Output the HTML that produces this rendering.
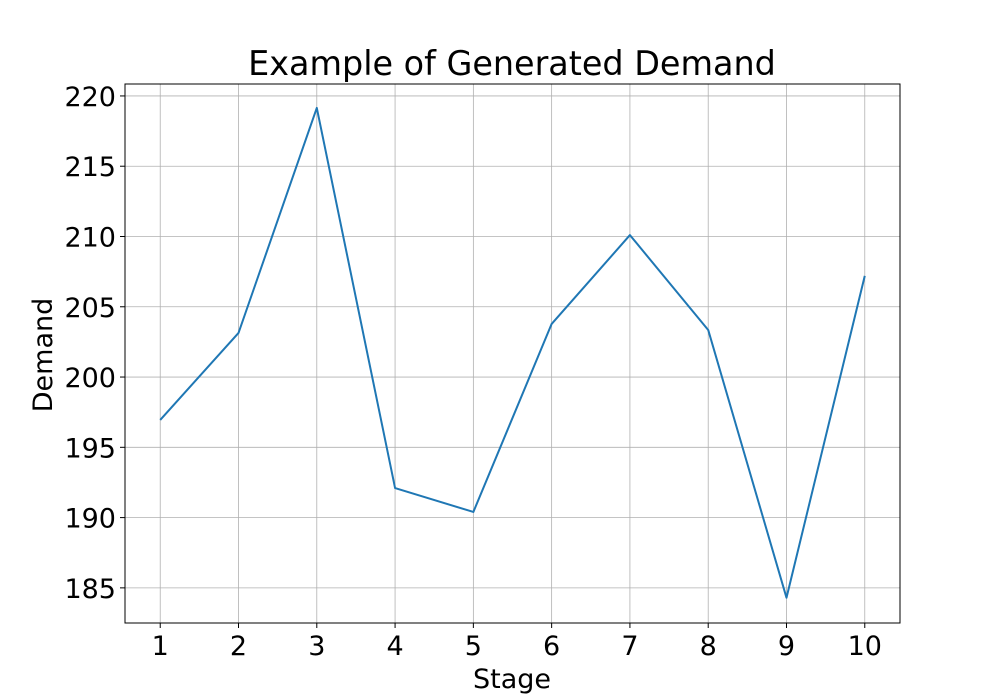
<!DOCTYPE html>
<html><head><meta charset="utf-8"><style>
html,body{margin:0;padding:0;background:#fff;}
svg{display:block;font-family:"DejaVu Sans","Liberation Sans",sans-serif;}
</style></head><body>
<svg id="chart" width="1000" height="700">
<rect x="0" y="0" width="1000" height="700" fill="#fff"/>
<g id="grid"></g>
<g id="xticks"></g>
<g id="yticks"></g>
<path id="line" fill="none" stroke="#1f77b4" stroke-width="2" stroke-linejoin="round"/>
<rect x="125" y="84" width="775" height="539" fill="none" stroke="#000" stroke-width="1"/>
<text x="512" y="75" text-anchor="middle" font-size="33.4">Example of Generated Demand</text>
<text x="512" y="688" text-anchor="middle" font-size="27">Stage</text>
<text transform="translate(52,355) rotate(-90)" text-anchor="middle" font-size="27">Demand</text>
</svg>
<script>
const stages=[1,2,3,4,5,6,7,8,9,10];
const demand=[196.95,203.14,219.15,192.1,190.4,203.78,210.1,203.35,184.3,207.2];
const yTicks=[185,190,195,200,205,210,215,220];
const L=125,R=900,T=84,B=623;
const xMin=0.55,xMax=10.45,yMin=182.5,yMax=220.85;
const sx=v=>L+(v-xMin)/(xMax-xMin)*(R-L);
const sy=v=>B-(v-yMin)/(yMax-yMin)*(B-T);
const NS="http://www.w3.org/2000/svg";
const grid=document.getElementById('grid'),xg=document.getElementById('xticks'),yg=document.getElementById('yticks');
function mk(tag,attrs,parent){const e=document.createElementNS(NS,tag);for(const k in attrs)e.setAttribute(k,attrs[k]);parent.appendChild(e);return e;}
stages.forEach(s=>{const x=sx(s);
 const g=mk('line',{x1:x,x2:x,y1:T,y2:B,stroke:'#b0b0b0','stroke-width':0.8},grid);
 
 
 const t=mk('line',{x1:x,x2:x,y1:B,y2:B+5,stroke:'#000'},xg);
 
 
 const l=mk('text',{x:x,y:B+32,'text-anchor':'middle','font-size':27},xg);l.textContent=s;
 
 
});
yTicks.forEach(v=>{const y=sy(v);
 const g=mk('line',{x1:L,x2:R,y1:y,y2:y,stroke:'#b0b0b0','stroke-width':0.8},grid);
 
 
 const t=mk('line',{x1:L-5,x2:L,y1:y,y2:y,stroke:'#000'},yg);
 
 
 const l=mk('text',{x:L-9,y:y+10,'text-anchor':'end','font-size':27},yg);l.textContent=v;
 
 
});
document.getElementById('line').setAttribute('d',stages.map((s,i)=>(i?'L':'M')+sx(s)+','+sy(demand[i])).join(' '));
</script>
</body></html>
